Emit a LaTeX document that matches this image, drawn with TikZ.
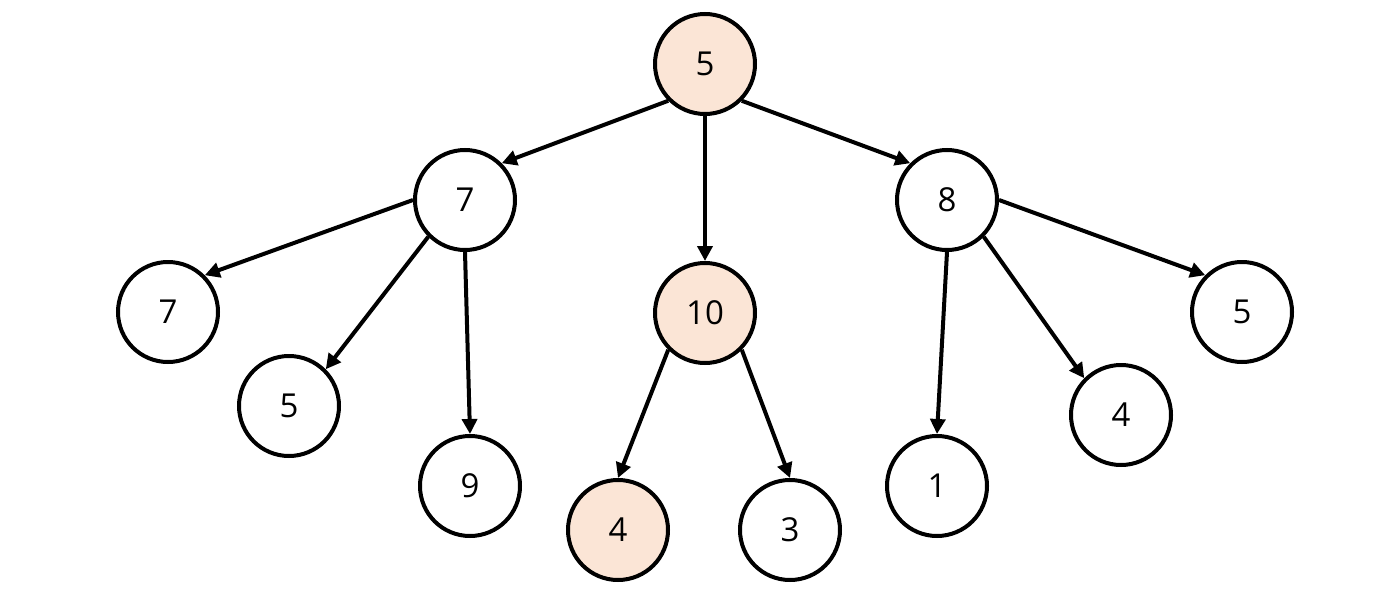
\documentclass[tikz,border=0pt]{standalone}
\usepackage{fontspec}
\setmainfont{Open Sans}
\usetikzlibrary{arrows.meta}
\definecolor{peach}{HTML}{FBE5D6}
\tikzset{
  nd/.style={circle, draw=black, line width=4pt, minimum size=100pt, inner sep=0pt, fill=white, font=\fontsize{33}{40}\selectfont},
  hl/.style={nd, fill=peach},
  arr/.style={line width=4pt, -{Triangle[length=15pt,width=15pt]}}
}
\begin{document}
\begin{tikzpicture}[x=1pt,y=-1pt]
\path[use as bounding box] (0,0) rectangle (1374,597);
\node[hl] (r) at (705,64) {5};
\node[nd] (a) at (465,200) {7};
\node[hl] (b) at (705,313) {10};
\node[nd] (c) at (947,200) {8};
\node[nd] (a1) at (168,312) {7};
\node[nd] (a2) at (289,406) {5};
\node[nd] (a3) at (470,486) {9};
\node[hl] (b1) at (618,530) {4};
\node[nd] (b2) at (790,530) {3};
\node[nd] (c1) at (937,486) {1};
\node[nd] (c2) at (1121,415) {4};
\node[nd] (c3) at (1242,312) {5};
\draw[arr] (r.225) -- (a.45);
\draw[arr] (r.270) -- (b.90);
\draw[arr] (r.315) -- (c.135);
\draw[arr] (a.180) -- (a1.45);
\draw[arr] (a.225) -- (a2.45);
\draw[arr] (a.270) -- (a3.90);
\draw[arr] (b.225) -- (b1.90);
\draw[arr] (b.315) -- (b2.90);
\draw[arr] (c.270) -- (c1.90);
\draw[arr] (c.315) -- (c2.135);
\draw[arr] (c.0) -- (c3.135);
\end{tikzpicture}
\end{document}
